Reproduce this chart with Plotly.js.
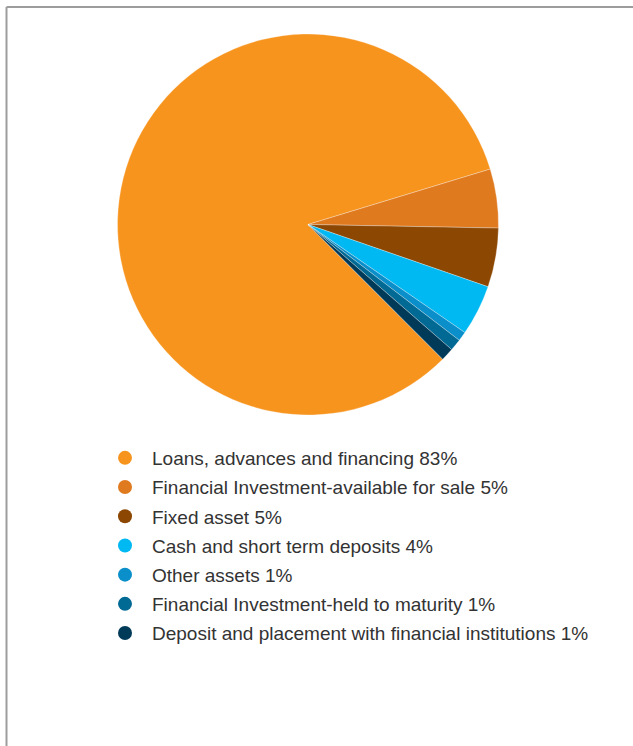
<!DOCTYPE html>
<html>
<head>
<meta charset="utf-8">
<script src="https://cdn.plot.ly/plotly-3.0.1.min.js"></script>
<style>
html,body{margin:0;padding:0;background:#fff;}
#chart{width:633px;height:746px;}
</style>
</head>
<body>
<div id="chart"></div>
<script>
var categories = [
  "Loans, advances and financing",
  "Financial Investment-available for sale",
  "Fixed asset",
  "Cash and short term deposits",
  "Other assets",
  "Financial Investment-held to maturity",
  "Deposit and placement with financial institutions"
];
var values = [82.8, 5.0, 5.0, 4.3, 0.8, 1.0, 1.1];
var percentLabels = ["83%", "5%", "5%", "4%", "1%", "1%", "1%"];
var colors = ["#F7941E", "#E07A1F", "#8C4703", "#00B9F2", "#0A8FCB", "#006A94", "#003A59"];

var traces = [{
  type: "pie",
  labels: categories,
  values: values,
  sort: false,
  direction: "clockwise",
  rotation: 135,
  textinfo: "none",
  hoverinfo: "label+percent",
  marker: {colors: colors, line: {color: "rgba(255,255,255,0.6)", width: 0.5}},
  domain: {x: [117.5/633, 498.5/633], y: [1 - 415/746, 1 - 34/746]},
  showlegend: false
}];

categories.forEach(function(c, i) {
  traces.push({
    type: "scatter",
    mode: "markers",
    x: [null], y: [null],
    name: c + " " + percentLabels[i],
    legendgroup: "g" + i,
    marker: {color: colors[i], size: 14, symbol: "circle"},
    hoverinfo: "skip",
    showlegend: true
  });
});

var layout = {
  width: 633, height: 746,
  margin: {l: 0, r: 0, t: 0, b: 0},
  paper_bgcolor: "#fff",
  plot_bgcolor: "#fff",
  xaxis: {visible: false},
  yaxis: {visible: false},
  font: {family: "Liberation Sans, Arial, sans-serif", color: "#333333", size: 19},
  legend: {
    x: 98/633, xanchor: "left",
    y: 1 - 439/746, yanchor: "top",
    traceorder: "grouped",
    tracegroupgap: 1.5,
    itemwidth: 44,
    bgcolor: "rgba(0,0,0,0)",
    font: {family: "Liberation Sans, Arial, sans-serif", color: "#333333", size: 19}
  },
  shapes: [
    {type: "line", xref: "paper", yref: "paper", x0: 6.5/633, x1: 1, y0: 1 - 7/746, y1: 1 - 7/746, line: {color: "#9d9d9d", width: 2}},
    {type: "line", xref: "paper", yref: "paper", x0: 6.5/633, x1: 6.5/633, y0: 1 - 7/746, y1: 0, line: {color: "#9d9d9d", width: 2}}
  ]
};

Plotly.newPlot("chart", traces, layout, {displayModeBar: false, staticPlot: true});
</script>
</body>
</html>
